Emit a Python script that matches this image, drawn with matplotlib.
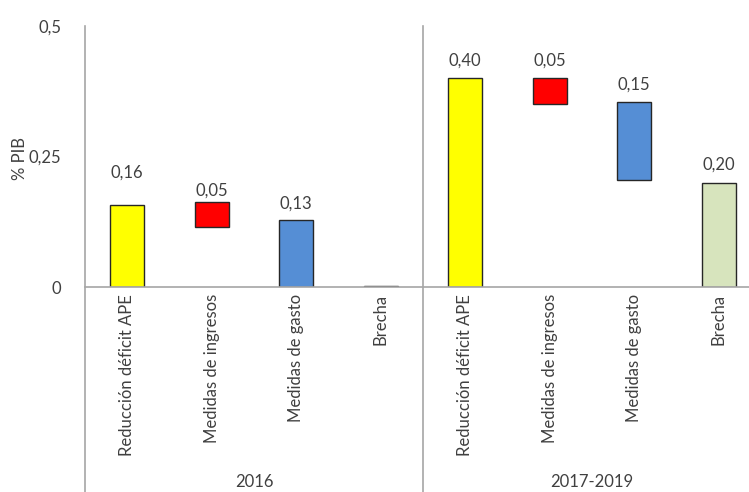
import matplotlib
matplotlib.use('Agg')
import matplotlib.pyplot as plt
from matplotlib import font_manager

# data (% PIB)
categories = ['Reducción déficit APE', 'Medidas de ingresos', 'Medidas de gasto', 'Brecha',
              'Reducción déficit APE', 'Medidas de ingresos', 'Medidas de gasto', 'Brecha']
groups = ['2016', '2017-2019']
bar_bottom = [0.0, 0.115, 0.0, 0.0, 0.0, 0.35, 0.205, 0.0]
bar_height = [0.157, 0.048, 0.128, 0.002, 0.40, 0.05, 0.15, 0.20]
value_labels = ['0,16', '0,05', '0,13', '', '0,40', '0,05', '0,15', '0,20']
y_ticks = [0, 0.25, 0.5]
y_ticklabels = ['0', '0,25', '0,5']

colors = ['#FFFF00', '#FF0000', '#558ED5', '#D7E4BD'] * 2
text_color = '#404040'
line_color = '#A6A6A6'

names = {f.name for f in font_manager.fontManager.ttflist}
family = 'Lato' if 'Lato' in names else 'DejaVu Sans'
plt.rcParams['font.family'] = [family, 'DejaVu Sans']

W, H = 749, 492
fig = plt.figure(figsize=(W / 100, H / 100), dpi=100)
# axes spans slightly past the right edge, like the cropped original
ax = fig.add_axes([85 / W, 1 - 287 / H, (761 - 85) / W, (287 - 26) / H])

x = list(range(len(categories)))
ax.bar(x, bar_height, bottom=bar_bottom, width=0.4, color=colors,
       edgecolor='#262626', linewidth=1.0, zorder=3)

# label offsets above bar tops (px), as placed in the original
offsets = [32, 11, 17, 17, 18, 18, 17, 18]
for i, lab in enumerate(value_labels):
    if not lab:
        continue
    ax.annotate(lab, (x[i], bar_bottom[i] + bar_height[i]),
                xytext=(0, offsets[i] * 0.72), textcoords='offset points',
                ha='center', va='center', fontsize=12, color=text_color)

ax.set_xlim(-0.5, len(categories) - 0.5)
ax.set_ylim(0, 0.5)
ax.set_yticks(y_ticks)
ax.set_yticklabels(y_ticklabels)
ax.set_xticks(x)
ax.set_xticklabels(categories, rotation=90, va='top', ha='center')
ax.tick_params(axis='y', length=0, pad=17, labelsize=12, labelcolor=text_color)
ax.tick_params(axis='x', length=0, pad=5, labelsize=12, labelcolor=text_color)
for side in ['top', 'right', 'left']:
    ax.spines[side].set_visible(False)
ax.spines['bottom'].set_color(line_color)
ax.spines['bottom'].set_linewidth(1.2)
ax.spines['bottom'].set_zorder(4)

fig.text(20 / W, 1 - 158 / H, '% PIB', rotation=90, ha='center', va='center',
         fontsize=12, color=text_color)

# multi-level category axis: left line and group separator reach down to the group labels
ymin = -(H - 287) / (287 - 26)
for xv in [-0.5, 3.5]:
    ax.axvline(xv, ymin=ymin, ymax=1, color=line_color, linewidth=1.2, clip_on=False, zorder=4)

group_y = -(482 - 287) / (287 - 26)
for g, lab in enumerate(groups):
    ax.text(g * 4 + 1.5, group_y, lab, transform=ax.get_xaxis_transform(),
            ha='center', va='center', fontsize=12, color=text_color)

fig.savefig('out.png', dpi=100)
